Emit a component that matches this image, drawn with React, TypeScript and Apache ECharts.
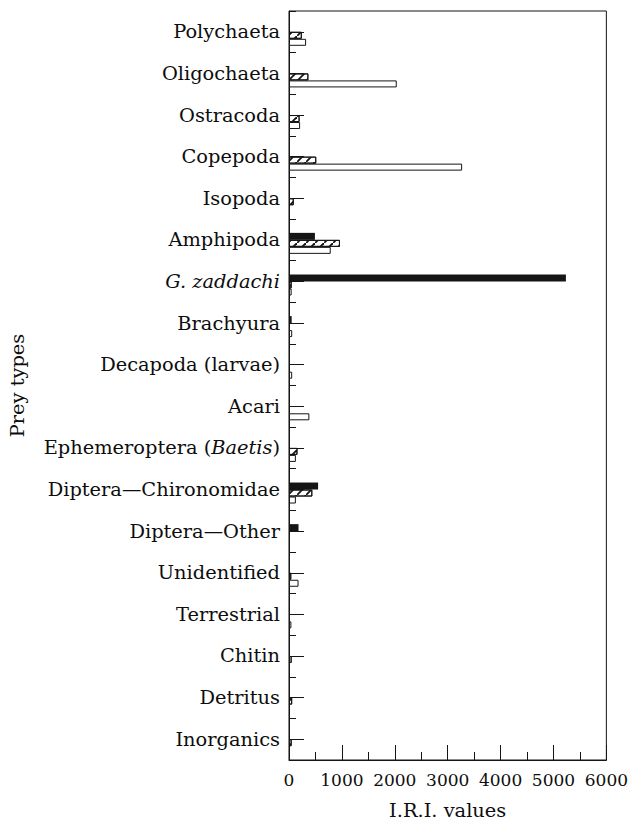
import React, { useEffect, useRef } from 'react';
import * as echarts from 'echarts';

const categories = [
  'Polychaeta',
  'Oligochaeta',
  'Ostracoda',
  'Copepoda',
  'Isopoda',
  'Amphipoda',
  'G. zaddachi',
  'Brachyura',
  'Decapoda (larvae)',
  'Acari',
  'Ephemeroptera (Baetis)',
  'Diptera—Chironomidae',
  'Diptera—Other',
  'Unidentified',
  'Terrestrial',
  'Chitin',
  'Detritus',
  'Inorganics',
];
const solidValues = [0, 0, 0, 0, 0, 490, 5235, 50, 0, 0, 0, 550, 180, 0, 0, 0, 0, 0];
const hatchedValues = [242, 366, 200, 515, 90, 963, 50, 0, 0, 0, 160, 441, 0, 43, 0, 50, 60, 50];
const openValues = [323, 2037, 210, 3273, 0, 789, 50, 60, 60, 385, 130, 130, 0, 180, 45, 0, 0, 0];
const xMin = 0;
const xMax = 6000;
const xInterval = 1000;
const xTitle = 'I.R.I. values';
const yTitle = 'Prey types';

const FONT = 'DejaVu Serif';
const INK = '#151515';
const TEXT = '#0d0d0d';
const LABEL_SIZE = 19.4;

function labelFmt(v: string) {
  if (v === 'G. zaddachi') return '{i|G. zaddachi}';
  if (v === 'Ephemeroptera (Baetis)') return 'Ephemeroptera ({i|Baetis})';
  return v;
}

const clean = (arr: number[]) => arr.map((v) => (v === 0 ? '-' : v));

// a "/" stroke filling a square cell, tiled to make diagonal hatching
const HATCH = 'path://M0,9 L1.3,9 L9,1.3 L9,0 L7.7,0 L0,7.7 Z';

export default function App() {
  const ref = useRef<HTMLDivElement>(null);
  useEffect(() => {
    if (!ref.current) return;
    const chart = echarts.init(ref.current, undefined, { renderer: 'svg' });
    const barBase = {
      type: 'bar',
      barWidth: 7,
      barGap: '0%',
      yAxisIndex: 0,
      xAxisIndex: 0,
    };
    chart.setOption({
      animation: false,
      backgroundColor: '#fff',
      grid: {
        left: 286,
        right: 23,
        top: 11,
        bottom: 62,
        show: true,
        borderColor: INK,
        borderWidth: 1,
        backgroundColor: 'transparent',
      },
      xAxis: {
        type: 'value',
        min: xMin,
        max: xMax,
        interval: xInterval,
        name: xTitle,
        nameLocation: 'middle',
        nameGap: 41,
        nameTextStyle: { fontFamily: FONT, fontSize: LABEL_SIZE, color: TEXT },
        axisLine: { show: true, lineStyle: { color: INK, width: 1 } },
        axisTick: { show: true, inside: true, length: 15, lineStyle: { color: INK } },
        minorTick: { show: true, splitNumber: 2, length: 8, lineStyle: { color: INK } },
        splitLine: { show: false },
        axisLabel: {
          fontFamily: FONT,
          fontSize: 17,
          color: TEXT,
          margin: 11,
          formatter: (v: number) => String(v),
        },
      },
      yAxis: [
        {
          type: 'category',
          data: categories,
          inverse: true,
          position: 'left',
          name: yTitle,
          nameLocation: 'middle',
          nameGap: 262,
          nameRotate: 90,
          nameTextStyle: { fontFamily: FONT, fontSize: LABEL_SIZE, color: TEXT },
          axisLine: { show: true, lineStyle: { color: INK, width: 1 } },
          axisTick: { show: true, inside: true, alignWithLabel: true, length: 15, lineStyle: { color: INK } },
          axisLabel: {
            fontFamily: FONT,
            fontSize: LABEL_SIZE,
            color: TEXT,
            margin: 9,
            formatter: labelFmt,
            rich: {
              i: { fontFamily: FONT, fontSize: LABEL_SIZE, fontStyle: 'italic', color: TEXT },
            },
          },
          splitLine: { show: false },
        },
        {
          type: 'category',
          data: categories,
          inverse: true,
          position: 'left',
          axisLine: { show: false },
          axisTick: { show: true, inside: true, alignWithLabel: false, length: 7, lineStyle: { color: INK } },
          axisLabel: { show: false },
          splitLine: { show: false },
        },
      ],
      series: [
        {
          ...barBase,
          name: 'spacer',
          data: categories.map(() => '-'),
          itemStyle: { color: 'transparent' },
        },
        {
          ...barBase,
          name: 'solid',
          data: clean(solidValues),
          itemStyle: { color: INK, borderColor: INK, borderWidth: 0 },
        },
        {
          ...barBase,
          name: 'hatched',
          data: clean(hatchedValues),
          itemStyle: {
            color: '#fff',
            borderColor: INK,
            borderWidth: 1,
            decal: {
              symbol: HATCH,
              symbolSize: 1,
              symbolKeepAspect: false,
              color: INK,
              backgroundColor: '#fff',
              dashArrayX: [9, 0],
              dashArrayY: [9, 0],
              rotation: 0,
            },
          },
        },
        {
          ...barBase,
          name: 'open',
          data: clean(openValues),
          itemStyle: { color: '#fff', borderColor: INK, borderWidth: 1 },
        },
      ],
    });
    return () => chart.dispose();
  }, []);
  return (
    <div
      ref={ref}
      style={{ position: 'fixed', left: 0, top: 0, width: 631, height: 825, background: '#fff' }}
    />
  );
}
